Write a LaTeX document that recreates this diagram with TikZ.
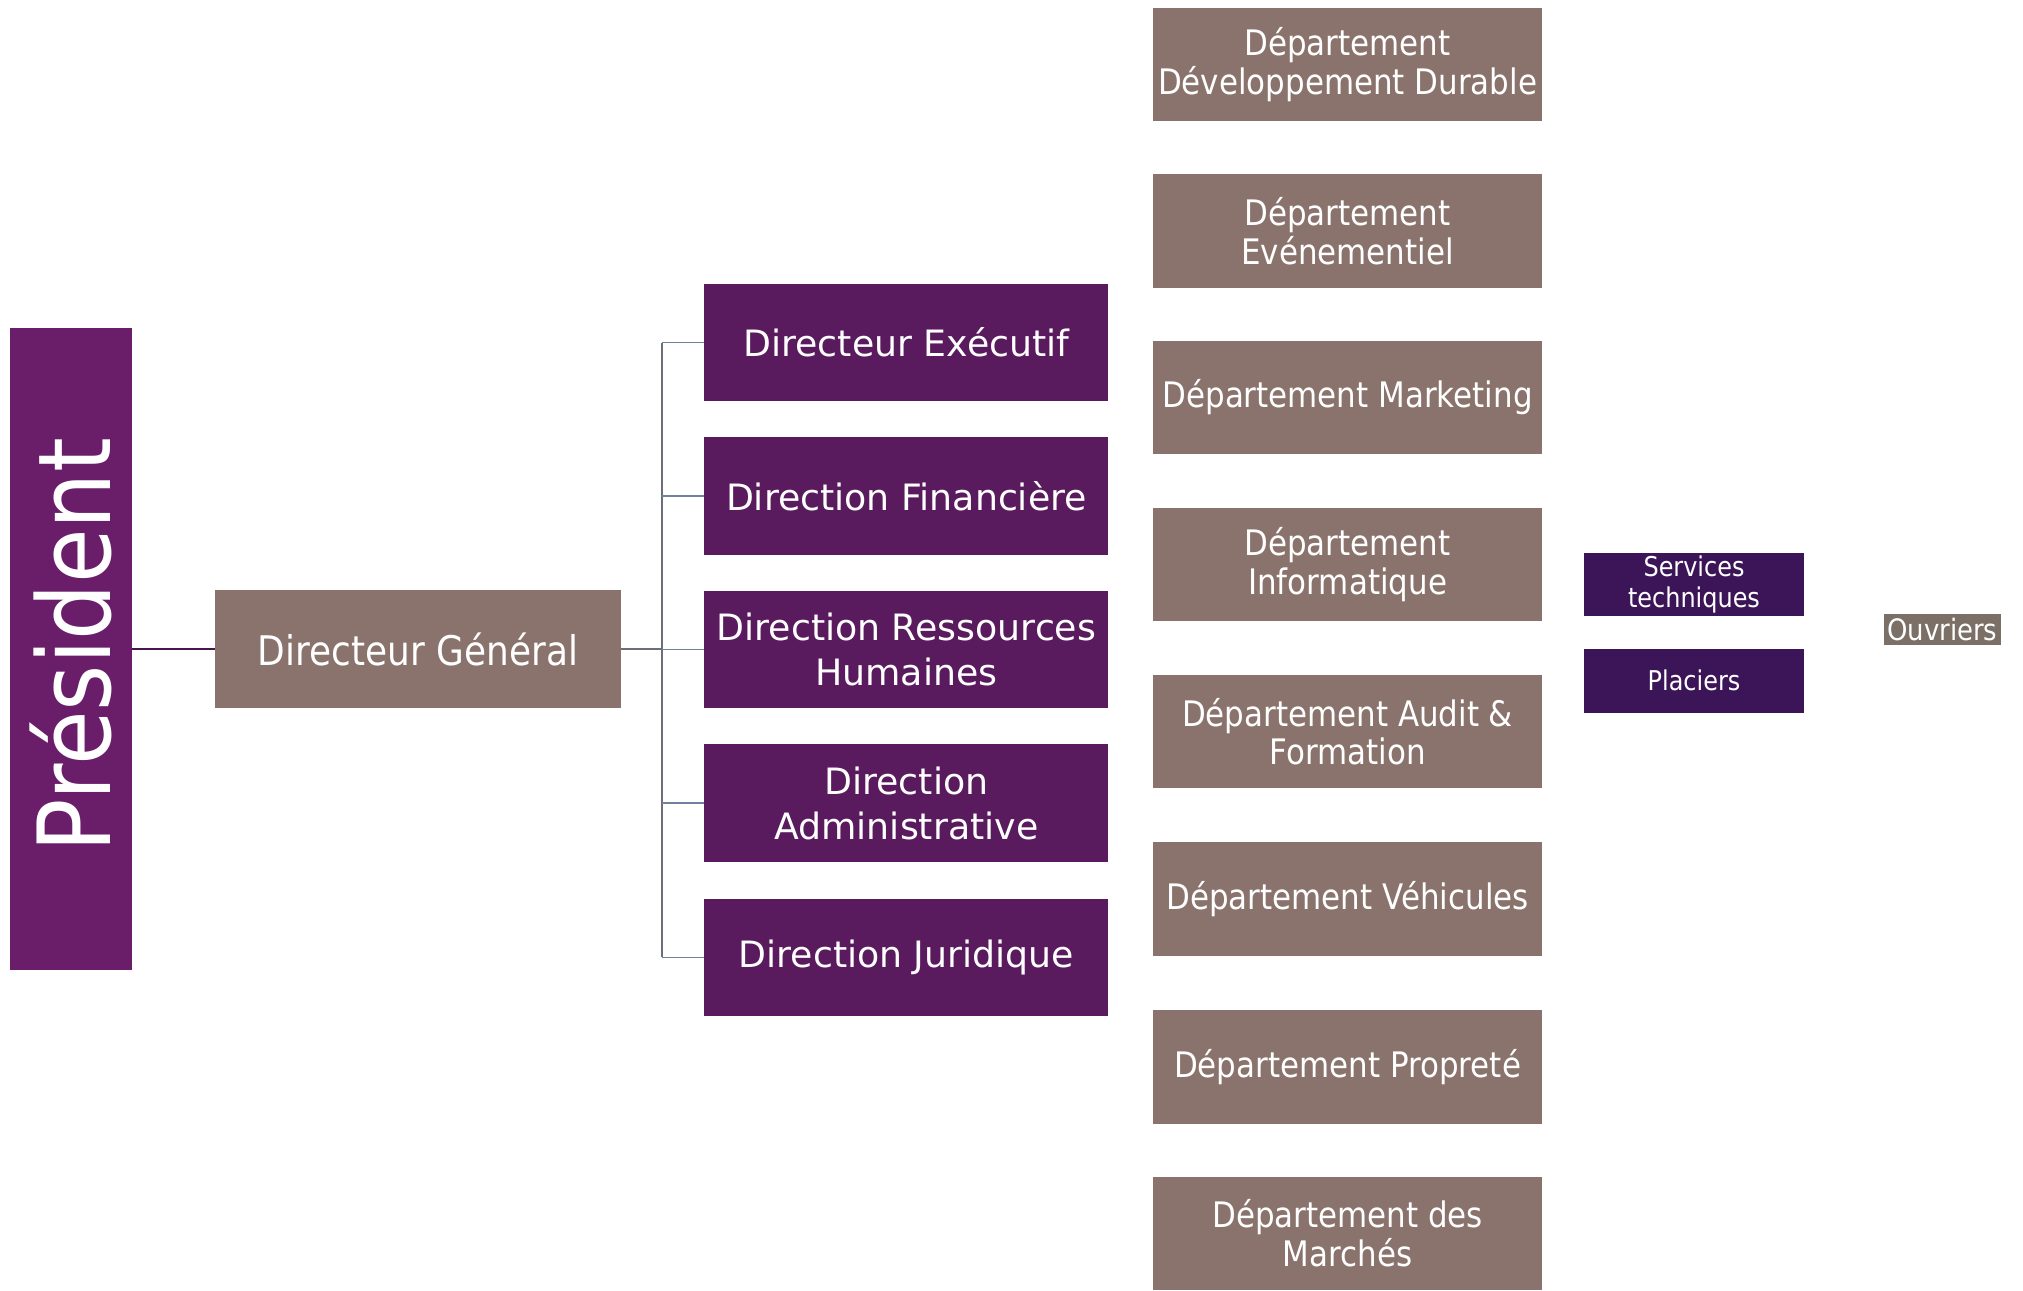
\documentclass[tikz,border=0pt]{standalone}
\usepackage{fontspec}
\setmainfont{DejaVu Sans}
\newfontfamily\tah[FakeStretch=0.88]{DejaVu Sans}
\definecolor{prespurple}{HTML}{6A1E6A}
\definecolor{dirpurple}{HTML}{5A1A5E}
\definecolor{navypurple}{HTML}{3C1558}
\definecolor{depbrown}{HTML}{8A736C}
\definecolor{ouvbrown}{HTML}{7B6F66}
\definecolor{linegray}{HTML}{6E6E78}
\definecolor{lineblue}{HTML}{7080A0}
\begin{document}
\begin{tikzpicture}[x=0.2mm,y=-0.2mm,
  box/.style={inner sep=0pt,align=center,text=white},
  dirbox/.style={box,fill=dirpurple,minimum width=62.6mm,minimum height=18.2mm,
     font=\fontsize{16}{20}\selectfont},
  depbox/.style={box,fill=depbrown,minimum width=60.2mm,minimum height=17.6mm,
     font=\tah\fontsize{15.5}{17}\selectfont},
  smallbox/.style={box,fill=navypurple,minimum width=34mm,minimum height=9.9mm,
     font=\tah\fontsize{12}{13.5}\selectfont},
  conn/.style={draw=linegray,line width=0.7pt},
  branch/.style={draw=lineblue,line width=0.7pt}]
\useasboundingbox (0,0) rectangle (1568,1000);
\fill[white] (0,0) rectangle (1568,1000);

% President
\node[box,fill=prespurple,minimum width=18.8mm,minimum height=99.6mm] (pres) at (55,503) {};
\node[text=white,rotate=90,inner sep=0pt,font=\tah\fontsize{44.5}{48}\selectfont] (prestext) at (55,500) {Président};

% Directeur General
\node[box,fill=depbrown,minimum width=62.8mm,minimum height=18.4mm,
      font=\tah\fontsize{18}{20}\selectfont] (dg) at (324,503) {Directeur Général};

% Directions
\node[dirbox] (d1) at (702.5,265.5) {Directeur Exécutif};
\node[dirbox] (d2) at (702.5,384.5) {Direction Financière};
\node[dirbox] (d3) at (702.5,503.5) {Direction Ressources\\Humaines};
\node[dirbox] (d4) at (702.5,622.5) {Direction\\Administrative};
\node[dirbox] (d5) at (702.5,742) {Direction Juridique};

% Departments
\node[depbox] (p1) at (1044.5,50) {Département\\Développement Durable};
\node[depbox] (p2) at (1044.5,179) {Département\\Evénementiel};
\node[depbox] (p3) at (1044.5,308) {Département Marketing};
\node[depbox] (p4) at (1044.5,437.5) {Département\\Informatique};
\node[depbox] (p5) at (1044.5,567) {Département Audit \&\\Formation};
\node[depbox] (p6) at (1044.5,697) {Département Véhicules};
\node[depbox] (p7) at (1044.5,827) {Département Propreté};
\node[depbox] (p8) at (1044.5,956) {Département des\\Marchés};

% Services
\node[smallbox] (s1) at (1313,453) {Services\\techniques};
\node[smallbox] (s2) at (1313,527.5) {Placiers};
\node[box,fill=ouvbrown,minimum width=18.2mm,minimum height=4.8mm,
      font=\tah\fontsize{13}{14}\selectfont] (ouv) at (1505.5,488) {Ouvriers};

% Connectors
\coordinate (bus) at (513,503);
\draw[draw=prespurple!70!black,line width=0.8pt] (pres.east) -- (dg.west);
\draw[conn] (dg.east) -- (bus);
\draw[conn] (bus |- d1.west) -- (bus |- d5.west);
\foreach \i in {1,...,5}{
  \draw[branch] (bus |- d\i.west) -- (d\i.west);
}
\end{tikzpicture}
\end{document}
